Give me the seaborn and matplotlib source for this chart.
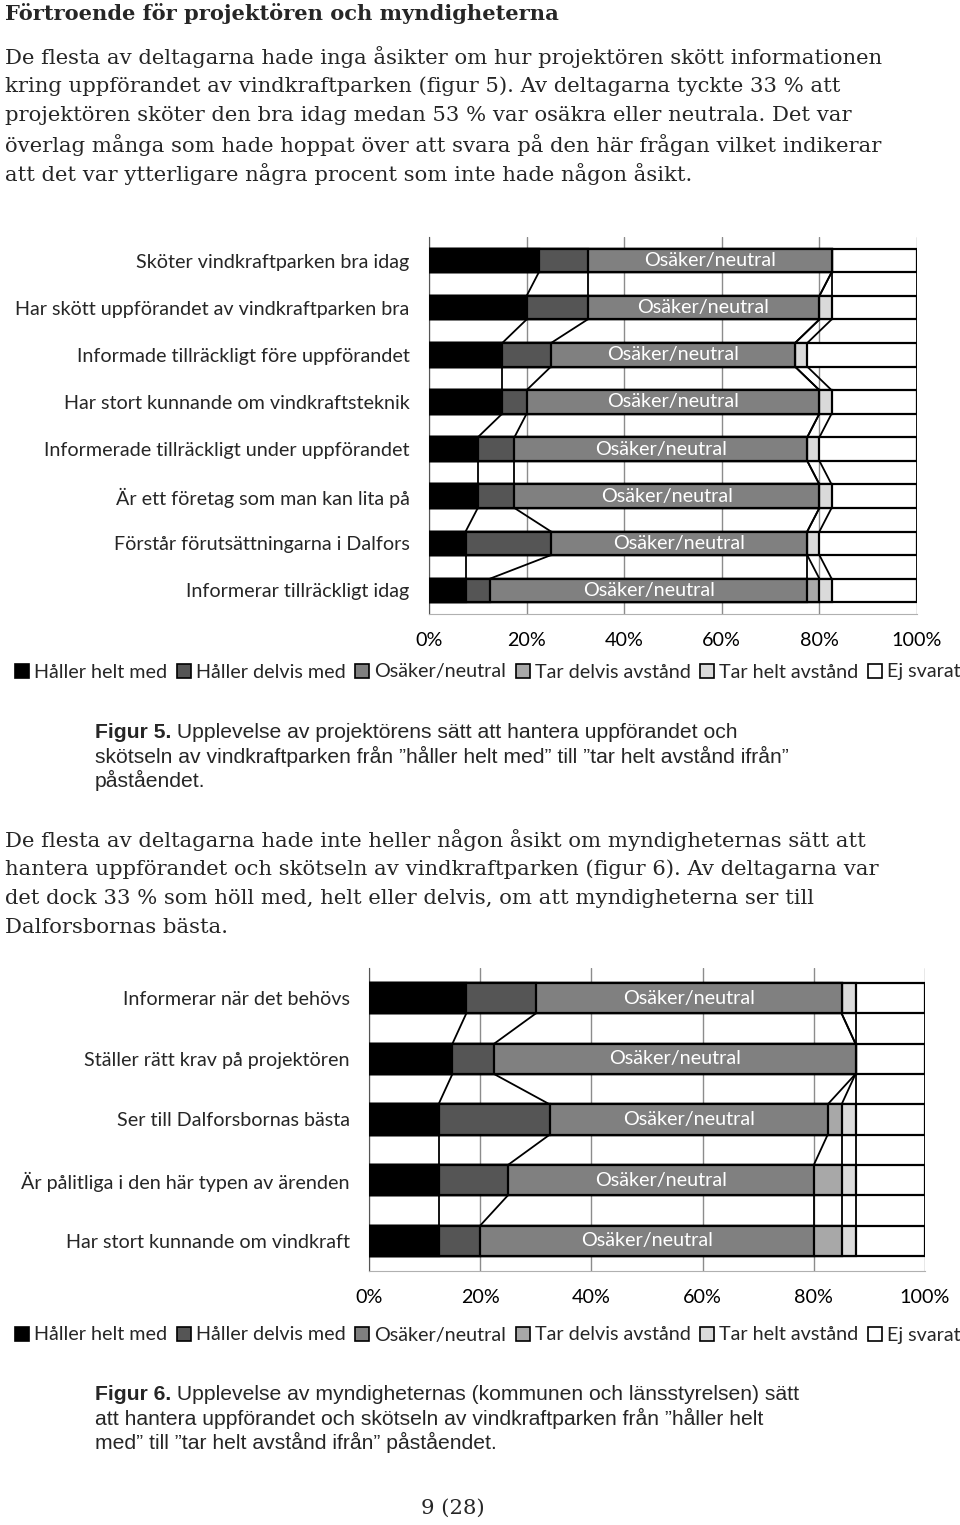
import numpy as np
import pandas as pd
import matplotlib
matplotlib.use("Agg")
import matplotlib.pyplot as plt
import seaborn as sns
from matplotlib.patches import Patch

# series names (legend order) and fill colours
names = ["Håller helt med", "Håller delvis med", "Osäker/neutral",
         "Tar delvis avstånd", "Tar helt avstånd", "Ej svarat"]
colors = ["#000000", "#555555", "#808080", "#a8a8a8", "#dadada", "#ffffff"]

# figur 5 - projektören
cats1 = ["Sköter vindkraftparken bra idag",
         "Har skött uppförandet av vindkraftparken bra",
         "Informade tillräckligt före uppförandet",
         "Har stort kunnande om vindkraftsteknik",
         "Informerade tillräckligt under uppförandet",
         "Är ett företag som man kan lita på",
         "Förstår förutsättningarna i Dalfors",
         "Informerar tillräckligt idag"]
helt1 = [22.5, 20, 15, 15, 10, 10, 7.5, 7.5]
delvis1 = [10, 12.5, 10, 5, 7.5, 7.5, 17.5, 5]
osaker1 = [50, 47.5, 50, 60, 60, 62.5, 52.5, 65]
tardelvis1 = [0, 0, 0, 0, 0, 0, 0, 2.5]
tarhelt1 = [0, 2.5, 2.5, 2.5, 2.5, 2.5, 2.5, 2.5]
ejsvar1 = [17.5, 17.5, 22.5, 17.5, 20, 17.5, 20, 17.5]

# figur 6 - myndigheterna
cats2 = ["Informerar när det behövs",
         "Ställer rätt krav på projektören",
         "Ser till Dalforsbornas bästa",
         "Är pålitliga i den här typen av ärenden",
         "Har stort kunnande om vindkraft"]
helt2 = [17.5, 15, 12.5, 12.5, 12.5]
delvis2 = [12.5, 7.5, 20, 12.5, 7.5]
osaker2 = [55, 65, 50, 55, 60]
tardelvis2 = [0, 0, 2.5, 5, 5]
tarhelt2 = [2.5, 0, 2.5, 2.5, 2.5]
ejsvar2 = [12.5, 12.5, 12.5, 12.5, 12.5]

xticks = [0, 20, 40, 60, 80, 100]

sns.set_style("white")
plt.rcParams["font.family"] = ["Lato", "DejaVu Sans"]

W, H = 960, 1525
fig = plt.figure(figsize=(9.6, 15.25), dpi=100)
FS = 14.2


def px_axes(left, top, right, bottom):
    return fig.add_axes([left / W, 1 - bottom / H, (right - left) / W, (bottom - top) / H])


def draw_chart(ax, cats, series):
    n = len(cats)
    df = pd.DataFrame({"fraga": cats})
    cum = np.zeros(n)
    for name, vals in zip(names, series):
        cum = cum + np.array(vals, dtype=float)
        df[name] = cum
    # stacked look: draw cumulative bars from the outermost inwards
    for name, col in reversed(list(zip(names, colors))):
        sns.barplot(data=df, x=name, y="fraga", orient="h", color=col,
                    saturation=1, edgecolor="black", linewidth=1.6,
                    width=0.5, ax=ax, zorder=3)
    # series lines between the bars
    for name in names:
        c = df[name].values
        for j in range(n - 1):
            ax.plot([c[j], c[j + 1]], [j + 0.25, j + 0.75], color="black",
                    lw=1.3, zorder=2)
    # label inside the neutral segment
    for j in range(n):
        mid = df[names[1]].values[j] + series[2][j] / 2
        ax.text(mid, j, "Osäker/neutral", color="white", ha="center",
                va="center", fontsize=FS, zorder=5)

    ax.set_xlim(0, 100)
    ax.set_ylim(n - 0.5, -0.5)
    ax.set_xlabel("")
    ax.set_ylabel("")
    ax.set_xticks(xticks)
    ax.set_xticklabels([f"{v}%" for v in xticks])
    ax.set_yticks(np.arange(-0.5, n), minor=True)
    ax.tick_params(axis="x", length=0, pad=13, labelsize=FS, colors="black")
    ax.tick_params(axis="y", which="major", length=0, pad=14, labelsize=FS)
    ax.tick_params(axis="y", which="minor", length=6, width=1, color="#555555")
    ax.grid(axis="x", color="#8c8c8c", lw=1)
    ax.set_axisbelow(True)
    for s in ["top", "right"]:
        ax.spines[s].set_visible(False)
    ax.spines["left"].set_color("#555555")
    ax.spines["bottom"].set_color("#b0b0b0")


ax1 = px_axes(429, 237, 917, 614)
draw_chart(ax1, cats1, [helt1, delvis1, osaker1, tardelvis1, tarhelt1, ejsvar1])
ax2 = px_axes(369, 968, 925, 1271)
draw_chart(ax2, cats2, [helt2, delvis2, osaker2, tardelvis2, tarhelt2, ejsvar2])

handles = [Patch(facecolor=c, edgecolor="black", lw=1.2) for c in colors]
for ly in [672, 1335]:
    fig.legend(handles, names, loc="center", bbox_to_anchor=(488 / W, 1 - ly / H),
               ncol=6, frameon=False, handlelength=0.7, handleheight=0.7,
               handletextpad=0.25, columnspacing=0.5, fontsize=FS,
               borderaxespad=0)

# page text
tax = fig.add_axes([0, 0, 1, 1], zorder=-1)
tax.set_xlim(0, W)
tax.set_ylim(H, 0)
tax.axis("off")

serif = "DejaVu Serif"
BODY = 15.2
tax.text(5, 14, "Förtroende för projektören och myndigheterna", family=serif,
         weight="bold", fontsize=15.1, va="center")

para1 = ["De flesta av deltagarna hade inga åsikter om hur projektören skött informationen",
         "kring uppförandet av vindkraftparken (figur 5). Av deltagarna tyckte 33 % att",
         "projektören sköter den bra idag medan 53 % var osäkra eller neutrala. Det var",
         "överlag många som hade hoppat över att svara på den här frågan vilket indikerar",
         "att det var ytterligare några procent som inte hade någon åsikt."]
for i, line in enumerate(para1):
    tax.text(5, 57 + i * 29.2, line, family=serif, fontsize=BODY, va="center")

para2 = ["De flesta av deltagarna hade inte heller någon åsikt om myndigheternas sätt att",
         "hantera uppförandet och skötseln av vindkraftparken (figur 6). Av deltagarna var",
         "det dock 33 % som höll med, helt eller delvis, om att myndigheterna ser till",
         "Dalforsbornas bästa."]
for i, line in enumerate(para2):
    tax.text(5, 840 + i * 29.3, line, family=serif, fontsize=BODY, va="center")

CAP = 15.2


def caption(y0, label, lines):
    b = tax.text(95, y0, label, family="Liberation Sans", weight="bold",
                 fontsize=CAP, va="center")
    tax.annotate(" " + lines[0], xy=(1, 0), xycoords=b, va="bottom", ha="left",
                 family="Liberation Sans", fontsize=CAP)
    for i, line in enumerate(lines[1:], start=1):
        tax.text(95, y0 + i * 24, line, family="Liberation Sans",
                 fontsize=CAP, va="center")


caption(732, "Figur 5.", ["Upplevelse av projektörens sätt att hantera uppförandet och",
                          "skötseln av vindkraftparken från ”håller helt med” till ”tar helt avstånd ifrån”",
                          "påståendet."])
caption(1394, "Figur 6.", ["Upplevelse av myndigheternas (kommunen och länsstyrelsen) sätt",
                           "att hantera uppförandet och skötseln av vindkraftparken från ”håller helt",
                           "med” till ”tar helt avstånd ifrån” påståendet."])

tax.text(453, 1508, "9 (28)", family=serif, fontsize=BODY, ha="center", va="center")

fig.savefig("out.png", dpi=100)
